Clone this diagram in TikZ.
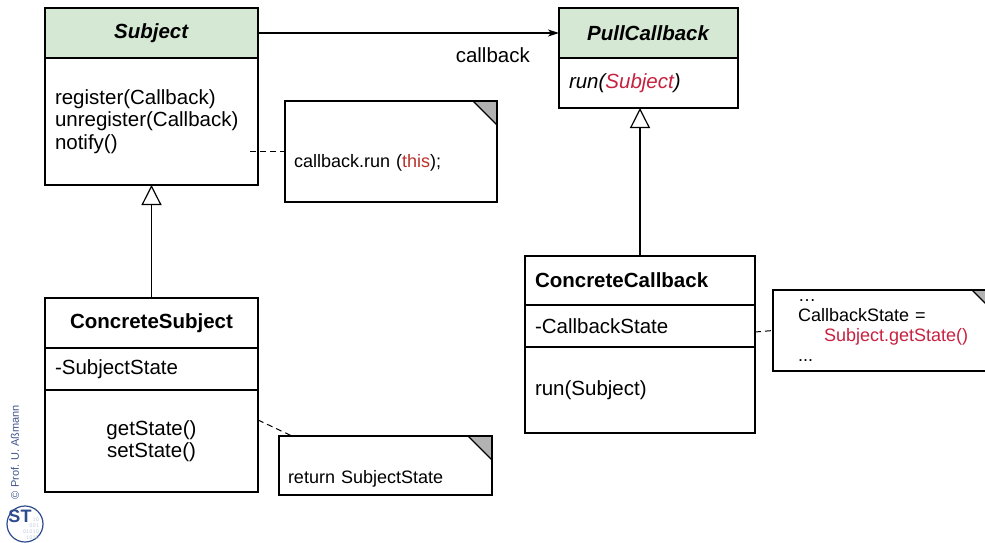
\documentclass[tikz,border=0pt]{standalone}
\usepackage{fontspec}
\setmainfont{Liberation Sans}
\usepackage{tikz}
\usetikzlibrary{
  shapes,
  calc,
  positioning,
  arrows.meta
}
\definecolor{hdrgreen}{HTML}{D5E8D4}
\definecolor{codered}{HTML}{B8322A}
\definecolor{argred}{HTML}{C8203F}
\definecolor{logoblue}{HTML}{2E4B8F}

\begin{document}
\begin{tikzpicture}[x=1pt, y=-1pt,
    font=\fontsize{20.5}{22.5}\selectfont,
    cls/.style = {draw, line width=1.2pt, outer sep=0pt, inner sep=0pt},
    hdr/.style = {cls, fill=hdrgreen},
    note/.style = {draw, line width=1.2pt, outer sep=0pt, inner sep=0pt,
      anchor=north west, align=left, font=\fontsize{18}{20}\selectfont,
      path picture={
        \fill[gray!60] (path picture bounding box.north east) -- ++(-24pt,0pt) -- ++(24pt,-24pt) -- cycle;
        \draw[line width=1.2pt] ([xshift=-24pt]path picture bounding box.north east) -- ([yshift=-24pt]path picture bounding box.north east);
      }},
    link/.style = {line width=1pt, dash pattern=on 6pt off 4pt},
    inherit/.style = {line width=1.2pt, -{Triangle[open, length=20pt, width=20pt, fill=white]}},
    assoc/.style = {line width=1.2pt, -{Stealth[length=11pt, width=7pt, inset=3pt]}}
  ]
    \useasboundingbox (0,0) rectangle (985,543);
    \clip (0,0) rectangle (985,543);

    % classes
    \node[hdr, minimum width=213pt, minimum height=50pt, anchor=north west] (subj) at (45,8) {\textbf{\textit{Subject}}};
    \node[cls, below=0pt of subj, minimum height=127pt, text width=193pt, inner xsep=10pt, align=left] (subjops) {register(Callback)\\unregister(Callback)\\notify()};

    \node[hdr, minimum width=179pt, minimum height=50pt, anchor=north west] (pull) at (559,8) {\textbf{\textit{PullCallback}}};
    \node[cls, below=0pt of pull, minimum height=50pt, text width=159pt, inner xsep=10pt, align=left] (pullops) {\textit{run(\textcolor{argred}{Subject})}};

    \node[cls, minimum width=213pt, minimum height=50pt, anchor=north west] (csubj) at (45,298) {\textbf{ConcreteSubject}};
    \node[cls, below=0pt of csubj, minimum height=42pt, text width=193pt, inner xsep=10pt, align=left] (csattr) {-SubjectState};
    \node[cls, below=0pt of csattr, minimum height=102pt, text width=193pt, inner xsep=10pt, align=center] (csops) {getState()\\setState()};

    \node[cls, minimum height=49pt, text width=210pt, inner xsep=10pt, align=left, anchor=north west] (ccb) at (525,256) {\textbf{ConcreteCallback}};
    \node[cls, below=0pt of ccb, minimum height=42pt, text width=210pt, inner xsep=10pt, align=left] (ccattr) {-CallbackState};
    \node[cls, below=0pt of ccattr, minimum height=86pt, text width=210pt, inner xsep=10pt, align=left] (ccops) {run(Subject)};

    % notes
    \node[note, text width=194pt, inner xsep=9pt, text height=66pt, text depth=35pt] (note1) at (285,101) {callback.run (\textcolor{codered}{this});};
    \node[note, text width=195pt, inner xsep=9pt, text height=47pt, text depth=12pt] (note3) at (279,436) {return SubjectState};
    \node[note, text width=173pt, inner xsep=25pt, minimum height=81pt] (note2) at (773,290) {…\\CallbackState =\\\hspace*{26pt}\textcolor{argred}{Subject.getState()}\\...};

    % connectors
    \draw[assoc] (subj.east) -- node[pos=0.78, yshift=-22pt] (cblabel) {callback} (pull.west);
    \draw[inherit] (csubj.north) -- (subjops.south);
    \draw[inherit] (ccb.north) -- (ccb.north |- pullops.south);
    \draw[link] ([xshift=-8pt]subjops.east |- note1.west) -- (note1.west);
    \draw[link] ([yshift=21pt]csops.east) -- ([xshift=13pt]note3.north west);
    \draw[link] ([yshift=-6pt]ccattr.east) -- (note2.west);

    % logo
    \node[rotate=90, font=\fontsize{11}{12}\selectfont, text=logoblue!80!gray] (copy) at (15,452) {\textcopyright{} Prof. U. Aßmann};
    \draw[logoblue, line width=1.2pt, fill=white] (25,524) circle (18pt);
    \node[text=logoblue!30, font=\fontsize{6}{6}\selectfont\ttfamily, align=right, inner sep=0pt] (bits) at (31,529) {10\\001\\01010\\1010};
    \node[text=logoblue, font=\bfseries\fontsize{18}{18}\selectfont, inner sep=0pt] (stmark) at (20,516) {ST};
\end{tikzpicture}
\end{document}
